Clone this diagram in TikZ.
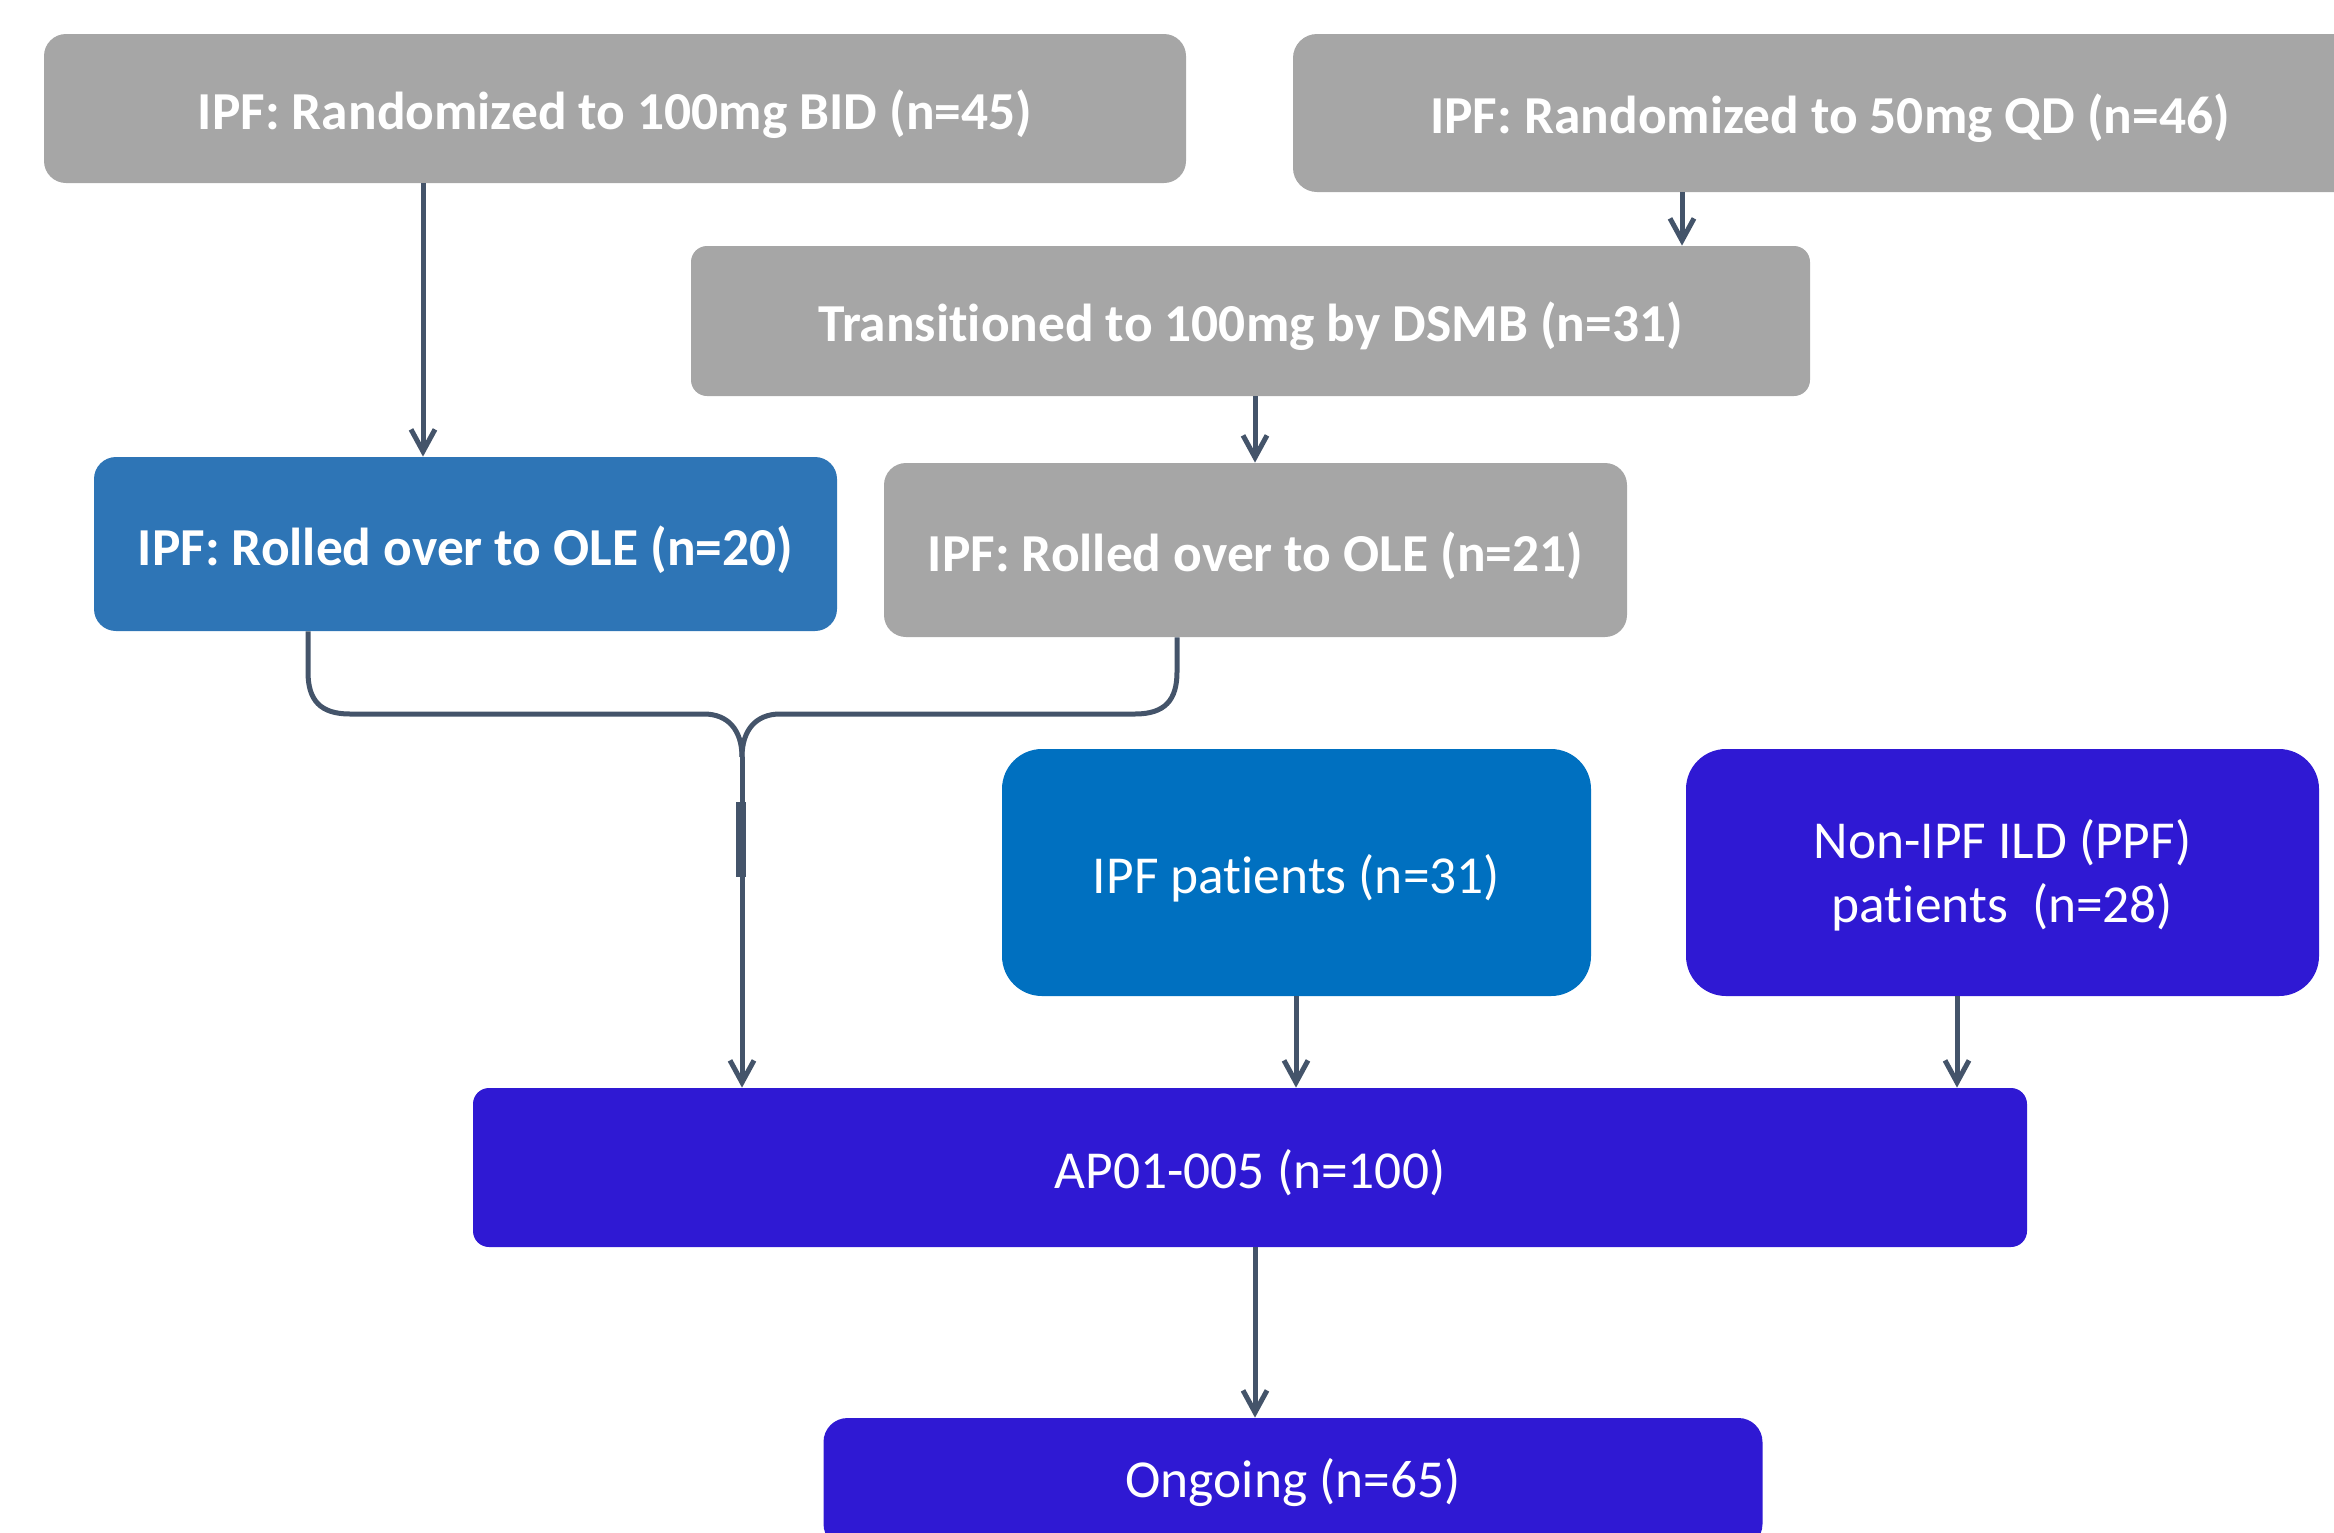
\documentclass[tikz,border=0pt]{standalone}
\usepackage{fontspec}
\setmainfont{Carlito}[Ligatures=NoCommon]
\usetikzlibrary{arrows.meta}
\definecolor{gbox}{HTML}{A6A6A6}
\definecolor{bbox}{HTML}{2E75B6}
\definecolor{cbox}{HTML}{0070C0}
\definecolor{vbox}{HTML}{2F19D3}
\definecolor{conn}{HTML}{44546A}
\newcommand{\lowtext}[1]{\raisebox{-2.8pt}[\height][\depth]{#1}}
\begin{document}
\begin{tikzpicture}[x=0.5pt,y=-0.5pt,
  box/.style={draw=none, text=white, align=center, inner sep=0pt,
    font=\fontsize{26.7}{32}\selectfont},
  sz/.style 2 args={minimum width=#1*0.5pt, minimum height=#2*0.5pt},
  cline/.style={draw=conn, line width=2.5pt},
  arr/.style={cline, -{Straight Barb[length=11pt,width=12pt]}}]
\useasboundingbox (0,0) rectangle (2334,1532);
\clip (0,0) rectangle (2334,1532);

\node[box, fill=gbox, sz={1142}{149}, rounded corners=11pt] (b1) at (615,108.5) {\lowtext{\bfseries IPF: Randomized to 100mg BID (n=45)}};
\node[box, fill=gbox, sz={1074}{158}, rounded corners=12pt] (b2) at (1830,113) {\lowtext{\bfseries IPF: Randomized to 50mg QD (n=46)}};
\node[box, fill=gbox, sz={1119}{150}, rounded corners=8pt] (b3) at (1250.5,321) {\lowtext{\bfseries Transitioned to 100mg by DSMB (n=31)}};
\node[box, fill=bbox, sz={743}{174}, rounded corners=11pt] (b4) at (465.5,544) {\lowtext{\bfseries IPF: Rolled over to OLE (n=20)}};
\node[box, fill=gbox, sz={743}{174}, rounded corners=11pt] (b5) at (1255.5,550) {\lowtext{\bfseries IPF: Rolled over to OLE (n=21)}};
\node[box, fill=cbox, sz={589}{247}, rounded corners=20pt] (b6) at (1296.5,872.5) {\lowtext{IPF patients (n=31)}};
\node[box, fill=vbox, sz={633}{247}, rounded corners=20pt] (b7) at (2002.5,872.5) {\lowtext{\begin{tabular}{@{}c@{}}Non-IPF ILD (PPF)\\patients\ \ (n=28)\end{tabular}}};
\node[box, fill=vbox, sz={1554}{159}, rounded corners=8pt] (b8) at (1250,1167.5) {\lowtext{AP01-005 (n=100)}};
\node[box, fill=vbox, sz={939}{130}, rounded corners=12pt] (b9) at (1293,1483) {Ongoing (n=65)};

\coordinate (x1) at (423,0);
\coordinate (x2) at (1682,0);
\coordinate (x3) at (1255,0);
\coordinate (x5) at (1296,0);
\coordinate (x6) at (1957,0);
\coordinate (xL) at (308,0);
\coordinate (xR) at (1177,0);
\coordinate (j) at (742,757);

\draw[arr] (b1.south -| x1) -- (b4.north -| x1);
\draw[arr] (b2.south -| x2) -- (b3.north -| x2);
\draw[arr] (b3.south -| x3) -- (b5.north -| x3);
\draw[arr] (b6.south -| x5) -- (b8.north -| x5);
\draw[arr] (b7.south -| x6) -- (b8.north -| x6);
\draw[arr] (b8.south -| x3) -- (b9.north -| x3);

\draw[cline] (b4.south -| xL) -- (308,672) .. controls (308,700) and (320,714) .. (350,714) -- (704,714) .. controls (728,714) and (742,730) .. (j);
\draw[cline] (b5.south -| xR) -- (1177,672) .. controls (1177,700) and (1165,714) .. (1135,714) -- (780,714) .. controls (756,714) and (742,730) .. (j);
\draw[arr] (j) -- (b8.north -| j);
\draw[draw=conn, line width=4.7pt] (741,802) -- (741,877);
\end{tikzpicture}
\end{document}
